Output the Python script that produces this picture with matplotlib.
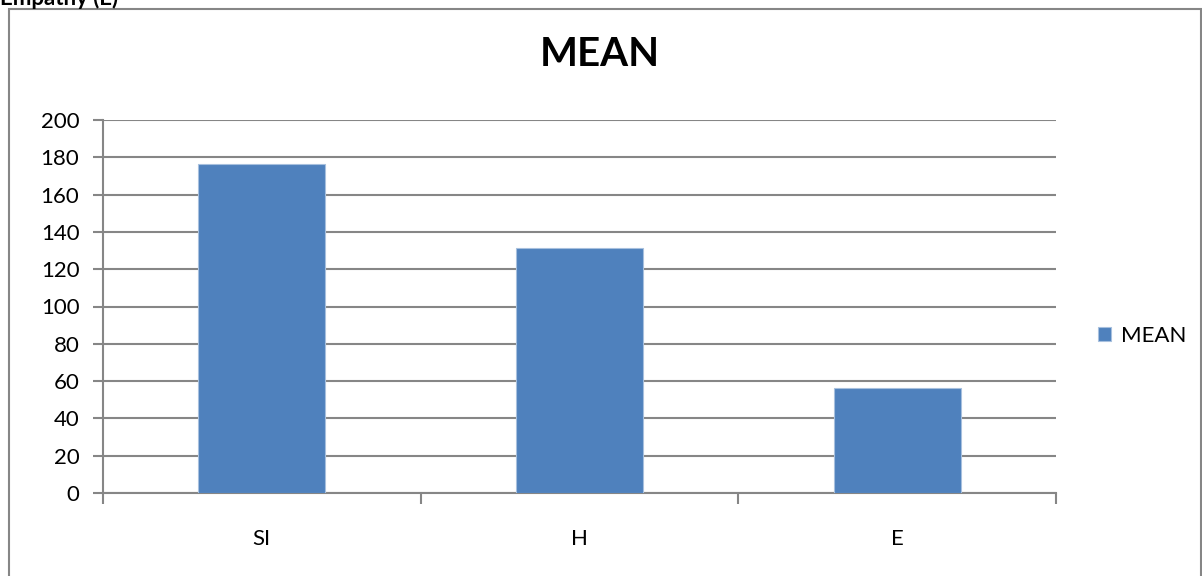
import matplotlib.pyplot as plt
from matplotlib.patches import Rectangle
import numpy as np

categories = ["SI", "H", "E"]
mean_values = [176.5, 131.5, 56.5]
y_ticks = [0, 20, 40, 60, 80, 100, 120, 140, 160, 180, 200]

plt.rcParams['font.family'] = ['Lato', 'DejaVu Sans']

W, H = 1202, 576
fig = plt.figure(figsize=(W / 100, H / 100), dpi=100)
grey = "#868686"
blue = "#4f81bd"

# chart frame (runs off the bottom and right of the picture)
fig.patches.append(Rectangle((9 / W, -0.1), (1201 - 9) / W, 1 - 9 / H + 0.1,
                             transform=fig.transFigure, fill=False,
                             edgecolor=grey, lw=1.5, clip_on=False))
fig.text(0, 1 - 5 / H, "Empathy (E)", fontsize=16, fontweight='bold',
         ha='left', va='baseline')

ax = fig.add_axes([103 / W, 1 - 493 / H, (1056 - 103) / W, (493 - 120) / H])
x = np.arange(len(categories))
ax.bar(x, mean_values, width=0.4, color=blue, edgecolor='#a7c0de',
       linewidth=0.8, label="MEAN", zorder=3)
ax.set_xlim(-0.5, len(categories) - 0.5)
ax.set_ylim(0, 200)
ax.set_yticks(y_ticks)
ax.yaxis.grid(True, color=grey, lw=1.5, zorder=0)
ax.set_xticks(np.arange(len(categories) + 1) - 0.5)
ax.set_xticklabels([])
ax.set_xticks(x, minor=True)
ax.set_xticklabels(categories, minor=True)
ax.tick_params(axis='x', which='major', length=8, width=1.5, color=grey, direction='out')
ax.tick_params(axis='x', which='minor', length=0, pad=26, labelsize=16)
ax.tick_params(axis='y', length=7, width=1.5, color=grey, labelsize=16, pad=10)
for s in ['top', 'right']:
    ax.spines[s].set_visible(False)
for s in ['left', 'bottom']:
    ax.spines[s].set_color(grey)
    ax.spines[s].set_linewidth(1.5)

fig.text(600 / W, 1 - 55 / H, "MEAN", fontsize=29, fontweight='bold',
         ha='center', va='center')

fig.legend(loc='center left', bbox_to_anchor=(1098 / W, 1 - 336 / H),
           frameon=False, fontsize=16, handlelength=0.6, handleheight=0.6,
           handletextpad=0.45, borderpad=0, borderaxespad=0)

fig.savefig("out.png", dpi=100)
